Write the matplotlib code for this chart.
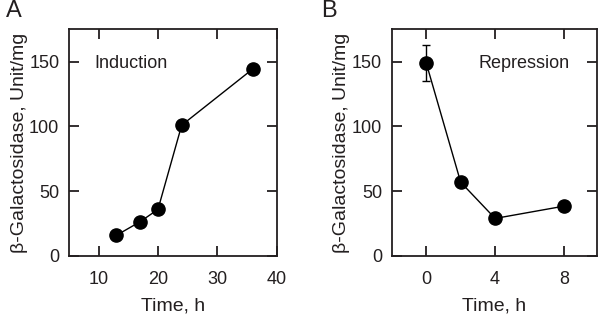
import numpy as np
import matplotlib
matplotlib.use("Agg")
import matplotlib.pyplot as plt

plt.rcParams['font.family'] = ['Liberation Sans', 'DejaVu Sans']

# panel A: induction
time_a = [13, 17, 20, 24, 36]
gal_a = [16, 26.5, 36, 101, 144.5]

# panel B: repression
time_b = [0, 2, 4, 8]
gal_b = [149, 57, 29, 38.5]
err_b = [14, 0, 0, 0]

INK = '#231f20'
FS = 13

fig = plt.figure(figsize=(6, 3.21), dpi=100)
axA = fig.add_axes([0.115, 0.2025, 0.346, 0.706])
axB = fig.add_axes([0.653, 0.2025, 0.3415, 0.706])

def style(ax):
    for s in ax.spines.values():
        s.set_linewidth(1.3)
        s.set_color(INK)
    ax.tick_params(direction='in', length=7, width=1.3, colors=INK,
                   top=True, right=True, labelsize=FS)
    ax.tick_params(axis='x', pad=11)
    ax.tick_params(axis='y', pad=7)
    ax.set_ylim(0, 175)
    ax.set_yticks([0, 50, 100, 150])
    ax.set_ylabel('β-Galactosidase, Unit/mg', fontsize=14, color=INK, labelpad=1)
    ax.set_xlabel('Time, h', fontsize=14, color=INK, labelpad=7)

axA.plot(time_a, gal_a, '-o', color='black', lw=1, ms=9.5)
axA.set_xlim(5, 40)
axA.set_xticks([10, 20, 30, 40])
style(axA)
axA.text(0.12, 0.851, 'Induction', transform=axA.transAxes, fontsize=FS,
         color=INK, va='center')

axB.errorbar(time_b, gal_b, yerr=err_b, fmt='-o', color='black', lw=1,
             ms=9.5, capsize=3, elinewidth=1)
axB.set_xlim(-2, 9.9)
axB.set_xticks([0, 4, 8])
style(axB)
axB.text(0.866, 0.851, 'Repression', transform=axB.transAxes, fontsize=FS,
         color=INK, va='center', ha='right')

fig.text(0.01, 1.0, 'A', fontsize=17, color=INK, va='top')
fig.text(0.535, 1.0, 'B', fontsize=17, color=INK, va='top')

fig.savefig('out.png', dpi=100)
